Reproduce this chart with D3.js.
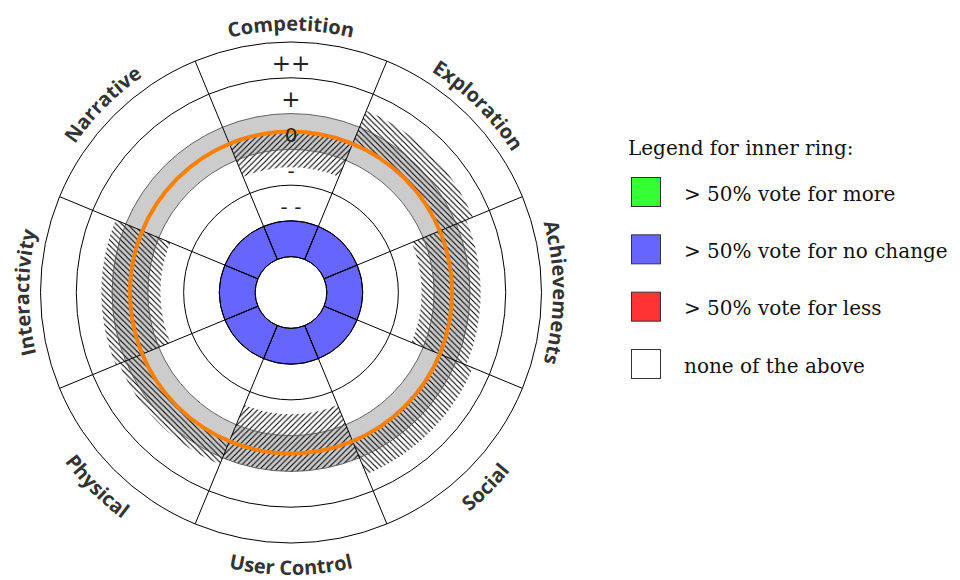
<!DOCTYPE html>
<html><head><meta charset="utf-8">
<script src="https://cdn.jsdelivr.net/npm/d3@7"></script>
<style>body{margin:0;background:#fff} svg{display:block}</style>
</head><body>
<svg id="chart" width="960" height="580"></svg>
<script>
// ---- data ----
const categories = ["Competition","Exploration","Achievements","Social","User Control","Physical","Interactivity","Narrative"];
const innerVote = ["nochange","nochange","nochange","nochange","nochange","nochange","nochange","nochange"];
const rangeLow  = [-1.0, 0.0, -0.85, 0.0, -1.1, 0.0, -0.85, null];
const rangeHigh = [ 0.0, 1.0,  0.8,  1.0,  0.5, 0.7,  0.8,  null];
const levelValues = [-2, -1, 0, 1, 2];
const levelLabels = ["- -", "-", "0", "+", "++"];
const legendTitle = "Legend for inner ring:";
const legendKeys = ["more", "nochange", "less", "none"];
const legendLabels = ["> 50% vote for more", "> 50% vote for no change", "> 50% vote for less", "none of the above"];

// ---- setup ----
const svg = d3.select("#chart");
const cx = 291, cy = 292.5;
const voteColor = d3.scaleOrdinal().domain(legendKeys).range(["#33ff33", "#6666ff", "#ff3333", "#ffffff"]);
const angle = d3.scaleBand().domain(categories).range([-Math.PI / 8, 2 * Math.PI - Math.PI / 8]).padding(0);
const r = d3.scaleLinear().domain([-4.5, 2.5]).range([0, 250.5]);
const bw = angle.bandwidth();

const defs = svg.append("defs");
const s = 5.6;
function hatch(id, d) {
  const p = defs.append("pattern").attr("id", id).attr("patternUnits", "userSpaceOnUse")
    .attr("width", s).attr("height", s);
  p.append("path").attr("d", d).attr("stroke", "#000").attr("stroke-width", 1.1)
    .attr("stroke-linecap", "square").attr("fill", "none");
}
hatch("hatchNE", `M0,${s} L${s},0 M-1,1 L1,-1 M${s - 1},${s + 1} L${s + 1},${s - 1}`);
hatch("hatchNW", `M0,0 L${s},${s} M-1,${s - 1} L1,${s + 1} M${s - 1},-1 L${s + 1},1`);

const g = svg.append("g").attr("transform", `translate(${cx},${cy})`);

// gray zero band
g.append("path")
  .attr("d", d3.arc()({innerRadius: r(-0.5), outerRadius: r(0.5), startAngle: 0, endAngle: 2 * Math.PI}))
  .attr("fill", "#cccccc");

// hatched ranges
const rows = categories.map((c, i) => ({c, i, lo: rangeLow[i], hi: rangeHigh[i], vote: innerVote[i]}));
g.selectAll("path.range").data(rows.filter(d => d.lo !== null)).join("path")
  .attr("class", "range")
  .attr("d", d => d3.arc()({innerRadius: r(d.lo), outerRadius: r(d.hi), startAngle: angle(d.c), endAngle: angle(d.c) + bw}))
  .attr("fill", d => ((d.lo + d.hi) / 2 < -0.2 ? "url(#hatchNE)" : "url(#hatchNW)"));

// gray band edges
g.selectAll("circle.band").data([-0.5, 0.5]).join("circle")
  .attr("r", d => r(d)).attr("fill", "none").attr("stroke", "#555").attr("stroke-width", 0.9);

// inner ring (vote)
g.selectAll("path.vote").data(rows).join("path")
  .attr("d", d => d3.arc()({innerRadius: r(-3.5), outerRadius: r(-2.5), startAngle: angle(d.c), endAngle: angle(d.c) + bw}))
  .attr("fill", d => voteColor(d.vote)).attr("stroke", "#000").attr("stroke-width", 1);

// ring circles
g.selectAll("circle.ring").data([-3.5, -2.5, -1.5, 1.5, 2.5]).join("circle")
  .attr("r", d => r(d)).attr("fill", "none").attr("stroke", "#000").attr("stroke-width", 1);

// spokes
g.selectAll("line.spoke").data(categories).join("line")
  .attr("x1", d => d3.pointRadial(angle(d), r(-3.5))[0])
  .attr("y1", d => d3.pointRadial(angle(d), r(-3.5))[1])
  .attr("x2", d => d3.pointRadial(angle(d), r(2.5))[0])
  .attr("y2", d => d3.pointRadial(angle(d), r(2.5))[1])
  .attr("stroke", "#000").attr("stroke-width", 1);

// orange zero line
g.append("circle").attr("r", r(0)).attr("fill", "none").attr("stroke", "#ff8000").attr("stroke-width", 4);

// level labels
g.selectAll("text.level").data(levelValues).join("text")
  .attr("x", 0).attr("y", d => -r(d) + 3.5)
  .attr("text-anchor", "middle").attr("dominant-baseline", "central")
  .attr("font-family", "DejaVu Sans").attr("fill", "#222")
  .attr("font-size", (d, i) => (levelLabels[i].includes("+") ? 23 : 20))
  .text((d, i) => levelLabels[i]);

// category labels on arcs
const span = 0.9;
rows.forEach(d => {
  const a = angle(d.c) + bw / 2;
  const bottom = Math.cos(a) < -0.5;
  let path;
  if (!bottom) {
    const R = 262;
    const p0 = d3.pointRadial(a - span, R), p1 = d3.pointRadial(a + span, R);
    path = `M${p0[0]},${p0[1]} A${R},${R} 0 0 1 ${p1[0]},${p1[1]}`;
  } else {
    const R = 282.5;
    const p0 = d3.pointRadial(a + span, R), p1 = d3.pointRadial(a - span, R);
    path = `M${p0[0]},${p0[1]} A${R},${R} 0 0 0 ${p1[0]},${p1[1]}`;
  }
  defs.append("path").attr("id", "lp" + d.i).attr("d", path).attr("transform", `translate(${cx},${cy})`);
  svg.append("text")
    .attr("font-family", "Open Sans").attr("font-weight", 700).attr("font-size", 20).attr("fill", "#333")
    .append("textPath").attr("href", "#lp" + d.i).attr("startOffset", "50%").attr("text-anchor", "middle")
    .text(d.c);
});

// legend
const lg = svg.append("g");
const legendFont = "DejaVu Serif";
lg.append("text").attr("x", 628).attr("y", 155)
  .attr("font-family", legendFont).attr("font-size", 20).attr("fill", "#111").text(legendTitle);
const ly = d3.scalePoint().domain(legendKeys).range([177.5, 349.5]);
lg.selectAll("rect").data(legendKeys).join("rect")
  .attr("x", 631.5).attr("y", d => ly(d)).attr("width", 29).attr("height", 29)
  .attr("fill", d => voteColor(d)).attr("stroke", "#333").attr("stroke-width", 1);
lg.selectAll("text.item").data(legendKeys).join("text").attr("class", "item")
  .attr("x", 684).attr("y", d => ly(d) + 23)
  .attr("font-family", legendFont).attr("font-size", 20).attr("fill", "#111")
  .text((d, i) => legendLabels[i]);
</script>
</body></html>
